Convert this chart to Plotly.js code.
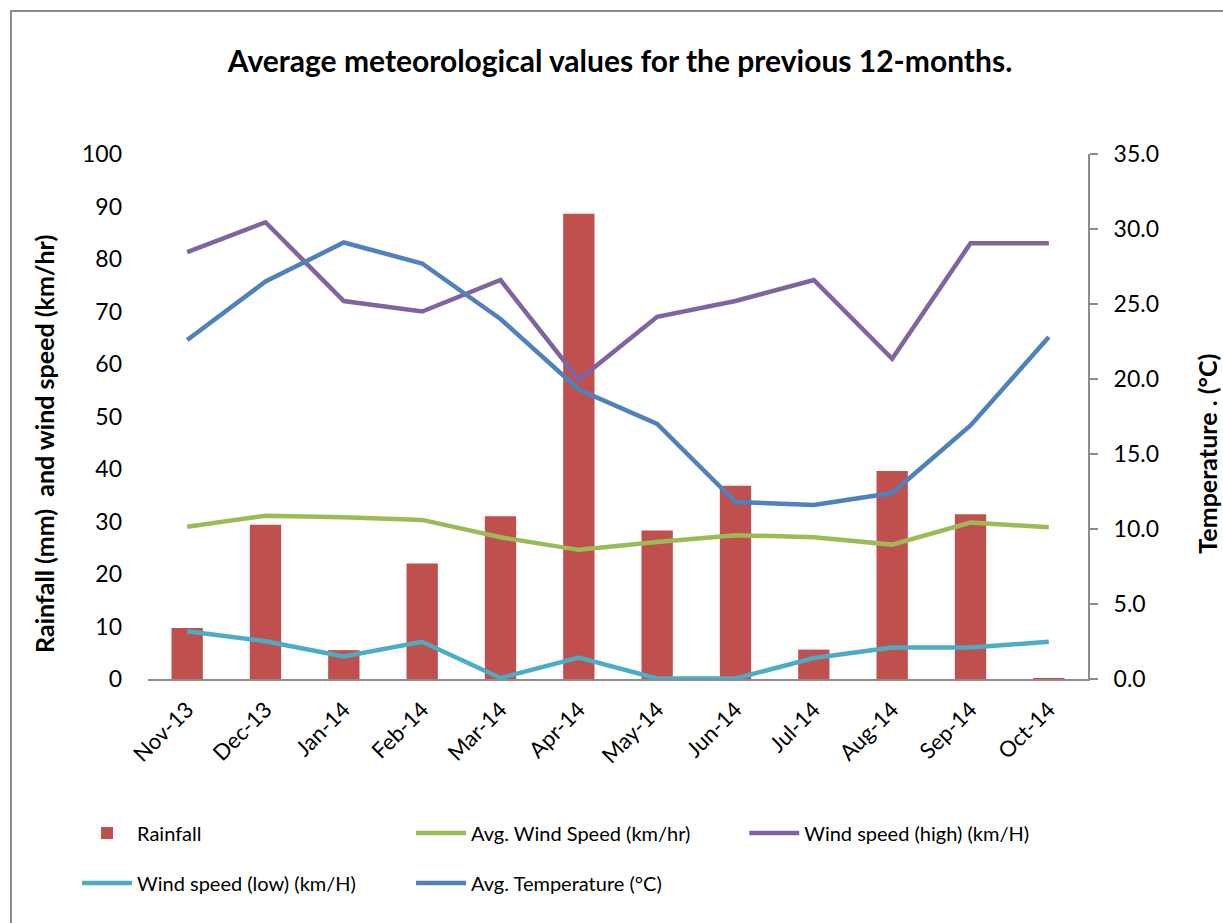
<!DOCTYPE html>
<html>
<head>
<meta charset="utf-8">
<script src="https://cdn.plot.ly/plotly-3.0.1.min.js"></script>
<style>
html,body{margin:0;padding:0;background:#fff;}
#frame{position:absolute;left:10px;top:10px;width:1240px;height:940px;border:2px solid #8c8c8c;box-sizing:border-box;}
#chart{position:absolute;left:0;top:0;width:1223px;height:923px;}
</style>
</head>
<body>
<div id="frame"></div>
<div id="chart"></div>
<script>
const months = ["Nov-13","Dec-13","Jan-14","Feb-14","Mar-14","Apr-14","May-14","Jun-14","Jul-14","Aug-14","Sep-14","Oct-14"];
const rainfall = [9.7, 29.4, 5.5, 22.0, 31.0, 88.6, 28.3, 36.8, 5.6, 39.6, 31.4, 0.2];
const avgWind = [29.0, 31.1, 30.8, 30.3, 27.0, 24.6, 26.1, 27.4, 27.0, 25.6, 29.8, 28.9];
const windHigh = [81.3, 87.0, 72.0, 70.0, 76.0, 57.0, 69.0, 72.0, 76.0, 61.0, 83.0, 83.0];
const windLow = [9.1, 7.2, 4.3, 7.1, 0.2, 4.1, 0.1, 0.1, 4.0, 6.0, 6.0, 7.1];
const avgTemp = [22.6, 26.5, 29.1, 27.7, 24.0, 19.3, 17.0, 11.8, 11.6, 12.4, 16.9, 22.8];
const leftTicks = [0,10,20,30,40,50,60,70,80,90,100];
const rightTicks = [0,5,10,15,20,25,30,35];

const FONT = "Lato, Open Sans, sans-serif";
const traces = [
  {type:"bar", name:"Rainfall", x:months, y:rainfall, marker:{color:"#C0504D"}, yaxis:"y", legend:"legend"},
  {type:"scatter", mode:"lines", name:"Avg. Wind Speed (km/hr)", x:months, y:avgWind, line:{color:"#9BBB59", width:4.5}, yaxis:"y", legend:"legend"},
  {type:"scatter", mode:"lines", name:"Wind speed (high) (km/H)", x:months, y:windHigh, line:{color:"#8064A2", width:4.5}, yaxis:"y", legend:"legend3"},
  {type:"scatter", mode:"lines", name:"Wind speed (low) (km/H)", x:months, y:windLow, line:{color:"#4BACC6", width:4.5}, yaxis:"y", legend:"legend2"},
  {type:"scatter", mode:"lines", name:"Avg. Temperature (°C)", x:months, y:avgTemp, line:{color:"#4F81BD", width:4.5}, yaxis:"y2", legend:"legend2"}
];

const legendCommon = {orientation:"h", xanchor:"left", yanchor:"middle", xref:"container", yref:"container",
  font:{size:20, family:FONT}, entrywidth:269, entrywidthmode:"pixels", bgcolor:"rgba(0,0,0,0)", itemwidth:50};

const layout = {
  width:1223, height:923,
  margin:{l:148, r:135, t:154, b:244},
  paper_bgcolor:"rgba(0,0,0,0)", plot_bgcolor:"rgba(0,0,0,0)",
  font:{family:FONT, color:"#000"},
  title:{text:"<b>Average meteorological values for the previous 12-months.</b>", font:{size:30, family:FONT}, x:0.507, xanchor:"center", y:0.933, yanchor:"middle"},
  bargap:0.6,
  xaxis:{type:"category", tickangle:-45, tickfont:{size:22}, showline:true, linecolor:"#8c8c8c", linewidth:2, ticks:"", showgrid:false, zeroline:false, ticklabelstandoff:7},
  yaxis:{range:[0,100], tickvals:leftTicks, tickfont:{size:23}, showgrid:false, zeroline:false, showline:false, ticks:"", ticklabelstandoff:25},
  yaxis2:{range:[0,35], tickvals:rightTicks, tickformat:".1f", overlaying:"y", side:"right", tickfont:{size:23}, showgrid:false, zeroline:false,
          showline:true, linecolor:"#8c8c8c", linewidth:2, ticks:"outside", ticklen:8, tickcolor:"#8c8c8c", tickwidth:2, ticklabelstandoff:11},
  annotations:[
    {text:"<b>Rainfall (mm)  and wind speed (km/hr)</b>", xref:"paper", yref:"paper", x:-0.110, y:0.447, xanchor:"center", yanchor:"middle", textangle:-90, showarrow:false, font:{size:25, family:FONT}},
    {text:"<b>Temperature . (°C)</b>", xref:"paper", yref:"paper", x:1.127, y:0.43, xanchor:"center", yanchor:"middle", textangle:-90, showarrow:false, font:{size:25, family:FONT}}
  ],
  legend:Object.assign({x:0.063, y:1-833/923}, legendCommon),
  legend2:Object.assign({x:0.063, y:1-883/923}, legendCommon),
  legend3:Object.assign({x:0.064+666/1223, y:1-833/923}, legendCommon),
  showlegend:true
};
Plotly.newPlot("chart", traces, layout, {displayModeBar:false, staticPlot:true});
</script>
</body>
</html>
